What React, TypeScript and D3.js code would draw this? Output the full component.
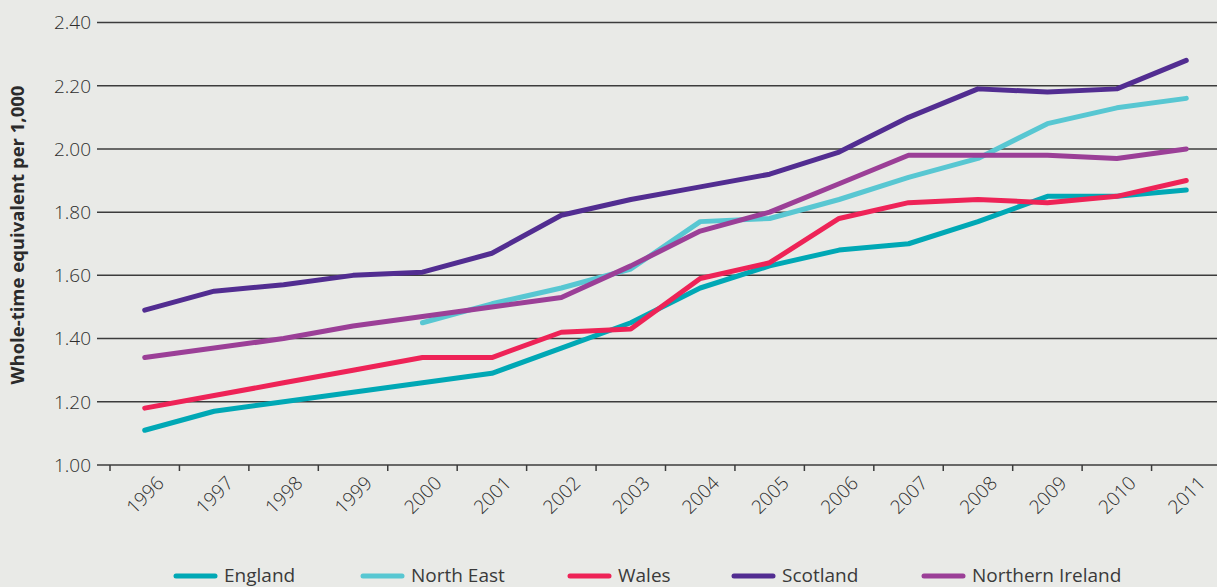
import React from "react";
import * as d3 from "d3";

const years = ["1996","1997","1998","1999","2000","2001","2002","2003","2004","2005","2006","2007","2008","2009","2010","2011"];
const yTicks = [1.0, 1.2, 1.4, 1.6, 1.8, 2.0, 2.2, 2.4];

const england = [1.11,1.17,1.20,1.23,1.26,1.29,1.37,1.45,1.56,1.63,1.68,1.70,1.77,1.85,1.85,1.87];
const northEast = [null,null,null,null,1.45,1.51,1.56,1.62,1.77,1.78,1.84,1.91,1.97,2.08,2.13,2.16];
const wales = [1.18,1.22,1.26,1.30,1.34,1.34,1.42,1.43,1.59,1.64,1.78,1.83,1.84,1.83,1.85,1.90];
const scotland = [1.49,1.55,1.57,1.60,1.61,1.67,1.79,1.84,1.88,1.92,1.99,2.10,2.19,2.18,2.19,2.28];
const northernIreland = [1.34,1.37,1.40,1.44,1.47,1.50,1.53,1.63,1.74,1.80,1.89,1.98,1.98,1.98,1.97,2.00];

const seriesNames = ["England", "North East", "Wales", "Scotland", "Northern Ireland"];
const seriesValues = [england, northEast, wales, scotland, northernIreland];
const seriesColors = ["#00a8b5", "#58c7d2", "#ee2357", "#522d91", "#9b3f97"];
// legend layout (x of each swatch start)
const legendX = [176, 363, 570, 734, 924];

const W = 1217, H = 587;
const FONT = "'Open Sans', 'DejaVu Sans', sans-serif";

export default function App() {
  const x = d3.scaleBand<string>().domain(years).range([110, 1221]).padding(0);
  const y = d3.scaleLinear().domain([1, 2.4]).range([465, 22.5]);
  const cx = (yr: string) => (x(yr) as number) + x.bandwidth() / 2;

  const line = d3
    .line<number | null>()
    .defined((d) => d != null)
    .x((_, i) => cx(years[i]))
    .y((d) => y(d as number));

  return (
    <svg
      width={W}
      height={H}
      style={{ position: "absolute", left: 0, top: 0, background: "#e9eae7" }}
    >
      <rect x={0} y={0} width={W} height={H} fill="#e9eae7" />
      {yTicks.map((t) => (
        <g key={t}>
          <line x1={97} x2={W} y1={y(t)} y2={y(t)} stroke="#3c3c3c" strokeWidth={1.5} />
          <text
            x={91}
            y={y(t)}
            dy="0.36em"
            textAnchor="end"
            fontFamily={FONT}
            fontWeight={300}
            fontSize={19}
            fill="#2e2e2e"
          >
            {t.toFixed(2)}
          </text>
        </g>
      ))}
      {years.map((yr) => (
        <g key={yr}>
          <line x1={x(yr)} x2={x(yr)} y1={465} y2={471} stroke="#3c3c3c" strokeWidth={1.5} />
          <text
            transform={`translate(${cx(yr) + 11},${475}) rotate(-45)`}
            textAnchor="end"
            dy="0.7em"
            fontFamily={FONT}
            fontWeight={300}
            fontSize={19}
            fill="#2e2e2e"
          >
            {yr}
          </text>
        </g>
      ))}
      <text
        transform={`translate(24,${235}) rotate(-90)`}
        textAnchor="middle"
        fontFamily={FONT}
        fontWeight={700}
        fontSize={18.5}
        fill="#2b2b2b"
      >
        Whole-time equivalent per 1,000
      </text>
      {seriesValues.map((vals, i) => (
        <path
          key={seriesNames[i]}
          d={line(vals) || ""}
          fill="none"
          stroke={seriesColors[i]}
          strokeWidth={5}
          strokeLinecap="round"
          strokeLinejoin="round"
        />
      ))}
      {seriesNames.map((n, i) => (
        <g key={n}>
          <line
            x1={legendX[i]}
            x2={legendX[i] + 39}
            y1={576}
            y2={576}
            stroke={seriesColors[i]}
            strokeWidth={5}
            strokeLinecap="round"
          />
          <text
            x={legendX[i] + 48}
            y={582}
            fontFamily={FONT}
            fontWeight={400}
            fontSize={19}
            fill="#3a3a3a"
          >
            {n}
          </text>
        </g>
      ))}
    </svg>
  );
}
